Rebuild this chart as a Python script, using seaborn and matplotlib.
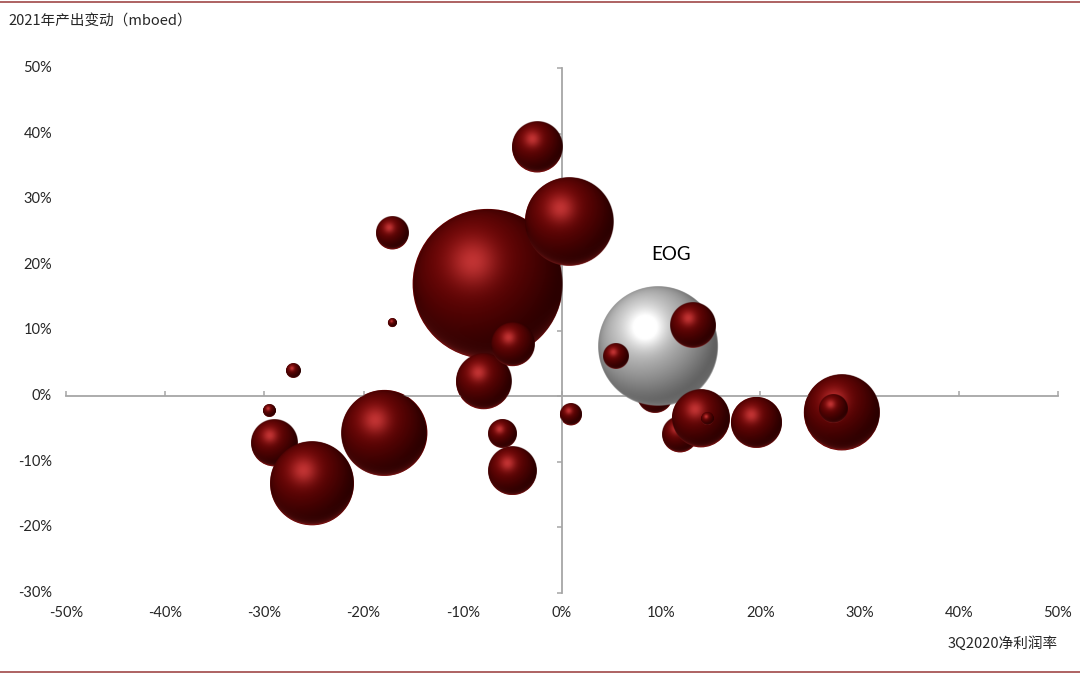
import numpy as np
import pandas as pd
import matplotlib
matplotlib.use("Agg")
import matplotlib.pyplot as plt
import seaborn as sns
from matplotlib.lines import Line2D

# ---------------- data ----------------
companies = ["C1", "C2", "C3", "C4", "C5", "C6", "C7", "C8", "C9", "C10",
             "C11", "C12", "C13", "C14", "C15", "C16", "EOG", "C18", "C19",
             "C20", "C21", "C22", "C23", "C24", "C25"]
net_margin = [-29.0, -25.2, -17.9, -7.5, 0.7, -2.5, -7.9, -5.0, -6.0, -5.0,
              0.9, -17.1, -17.1, -27.1, -29.5, 9.4, 9.7, 13.2, 5.4,
              11.9, 14.0, 14.6, 19.6, 28.2, 27.4]
prod_change = [-7.2, -13.3, -5.6, 17.1, 26.6, 37.9, 2.2, 7.9, -5.7, -11.4,
               -2.8, 24.8, 11.2, 3.9, -2.2, 0.2, 7.6, 10.7, 6.0,
               -5.9, -3.4, -3.4, -4.0, -2.5, -1.9]
bubble_size = [53, 176, 185, 563, 194, 63, 76, 48, 20, 58,
               12, 26, 2, 5, 4, 32, 360, 51, 16,
               31, 84, 4, 65, 144, 21]
highlight = "EOG"

x_ticks = [-50, -40, -30, -20, -10, 0, 10, 20, 30, 40, 50]
y_ticks = [-30, -20, -10, 0, 10, 20, 30, 40, 50]
y_title = "2021年产出变动（mboed）"
x_title = "3Q2020净利润率"

df = pd.DataFrame({"company": companies, "margin": net_margin,
                   "change": prod_change, "size": bubble_size})
df["kind"] = np.where(df["company"] == highlight, "hl", "other")

# ---------------- figure ----------------
sns.set_theme(style="white")
plt.rcParams["font.family"] = ["Noto Sans CJK SC", "DejaVu Sans"]

DPI = 100
fig = plt.figure(figsize=(10.8, 6.75), dpi=DPI)
ax = fig.add_axes([66 / 1080, 1 - 593 / 675, (1058 - 66) / 1080, (593 - 68) / 675])

MAX_R_PX = 75.0
max_area = (2 * MAX_R_PX * 72 / DPI) ** 2
sns.scatterplot(data=df, x="margin", y="change", size="size",
                sizes=(0, max_area), size_norm=(0, max(bubble_size)),
                hue="kind", palette={"hl": "#bdbdbd", "other": "#6e0000"},
                linewidth=0, legend=False, ax=ax, zorder=1)

ax.set_xlim(x_ticks[0], x_ticks[-1])
ax.set_ylim(y_ticks[0], y_ticks[-1])

# ---------------- sphere textures ----------------
N = 300
u = np.linspace(-1, 1, N)
v = np.linspace(1, -1, N)
U, V = np.meshgrid(u, v)
R2 = U ** 2 + V ** 2
Z = np.sqrt(np.clip(1 - R2, 0, 1))
L = np.array([-0.30, 0.42, 0.86])
L = L / np.linalg.norm(L)
D = np.clip(U * L[0] + V * L[1] + Z * L[2], 0, 1)
spot = np.exp(-((U + 0.20) ** 2 + (V - 0.30) ** 2) / 0.10)
rim = np.clip(1 - Z, 0, 1) ** 3 * np.clip(-V - 0.2, 0, 1)
alpha = np.clip((1 - np.sqrt(R2)) * N / 2, 0, 1)


def texture(dark, mid, hl, rimc, gamma):
    dark, mid, hl, rimc = map(np.array, (dark, mid, hl, rimc))
    col = dark + (mid - dark) * (D[..., None] ** gamma)
    col = col + hl * spot[..., None]
    col = col + rimc * rim[..., None]
    col = np.clip(col, 0, 1)
    return np.dstack([col, alpha])


tex_red = texture((0.17, 0.0, 0.0), (0.44, 0.02, 0.02), (0.32, 0.18, 0.18),
                  (0.50, 0.18, 0.18), 1.6)
tex_hl = texture((0.38, 0.38, 0.38), (0.80, 0.80, 0.80), (0.32, 0.32, 0.32),
                 (0.20, 0.20, 0.20), 1.4)

fig.canvas.draw()
inv = ax.transData.inverted()
for i, row in df.iterrows():
    r_px = MAX_R_PX * np.sqrt(row["size"] / max(bubble_size))
    cx, cy = ax.transData.transform((row["margin"], row["change"]))
    (x0, y0) = inv.transform((cx - r_px, cy - r_px))
    (x1, y1) = inv.transform((cx + r_px, cy + r_px))
    tex = tex_hl if row["kind"] == "hl" else tex_red
    ax.imshow(tex, extent=(x0, x1, y0, y1), origin="upper", aspect="auto",
              interpolation="bilinear", zorder=3 + i * 0.01)
    if row["company"] == highlight:
        ax.annotate(row["company"], xy=(row["margin"], row["change"]),
                    xytext=(9.5, 66), textcoords="offset points",
                    ha="center", va="center", fontsize=13.5, color="black",
                    family=["Lato", "DejaVu Sans"], zorder=10)

ax.set_xlim(x_ticks[0], x_ticks[-1])
ax.set_ylim(y_ticks[0], y_ticks[-1])

# ---------------- axes styling ----------------
axis_col = "#a6a6a6"
for s in ["top", "right"]:
    ax.spines[s].set_visible(False)
ax.spines["left"].set_position(("data", 0))
ax.spines["bottom"].set_position(("data", 0))
for s in ["left", "bottom"]:
    ax.spines[s].set_color(axis_col)
    ax.spines[s].set_linewidth(1.3)
    ax.spines[s].set_zorder(2)
ax.set_xticks(x_ticks)
ax.set_yticks(y_ticks)
ax.tick_params(axis="x", direction="in", length=3.5, width=1.1, color=axis_col,
               labelbottom=False, bottom=True)
ax.tick_params(axis="y", direction="out", length=3.5, width=1.1, color=axis_col,
               labelleft=False, left=True)
ax.set_xlabel("")
ax.set_ylabel("")
ax.grid(False)
ax.set_facecolor("none")

lbl_font = dict(fontsize=10.5, color="#262626", family=["Lato", "DejaVu Sans"])
for t in x_ticks:
    ax.annotate(f"{t}%", xy=(t, 0), xycoords=("data", "axes fraction"),
                xytext=(0, -14.5), textcoords="offset points",
                ha="center", va="center", **lbl_font)
for t in y_ticks:
    ax.annotate(f"{t}%", xy=(0, t), xycoords=("axes fraction", "data"),
                xytext=(-10, 0), textcoords="offset points",
                ha="right", va="center", **lbl_font)

fig.text(8 / 1080, 1 - 22 / 675, y_title, ha="left", va="center",
         fontsize=10.5, color="#262626", family=["Noto Sans CJK SC", "DejaVu Sans"])
fig.text(1058 / 1080, 1 - 643 / 675, x_title, ha="right", va="center",
         fontsize=10.5, color="#262626", family=["Noto Sans CJK SC", "DejaVu Sans"])

line_col = "#a04848"
fig.add_artist(Line2D([0, 1], [1 - 1.5 / 675, 1 - 1.5 / 675], color=line_col, lw=1.2,
                      transform=fig.transFigure))
fig.add_artist(Line2D([0, 1], [1 - 672 / 675, 1 - 672 / 675], color=line_col, lw=1.2,
                      transform=fig.transFigure))

fig.savefig("out.png", dpi=DPI)
